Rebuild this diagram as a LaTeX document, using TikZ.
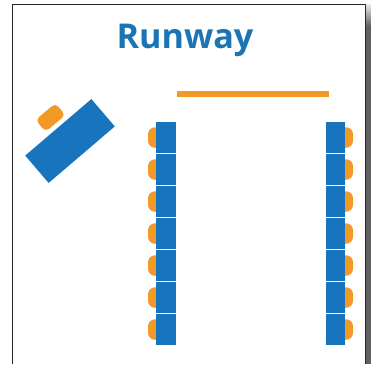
\documentclass[tikz,border=0pt]{standalone}
\usepackage{fontspec}
\setsansfont{Open Sans}
\definecolor{tableblue}{HTML}{1874BC}
\definecolor{chairorange}{HTML}{F39A26}
\definecolor{titleblue}{HTML}{1B75B4}
\tikzset{
	tablebox/.style={draw=none, fill=tableblue, minimum width=19.5pt, minimum height=30.5pt, inner sep=0pt, outer sep=0pt},
	chairbox/.style={draw=none, fill=chairorange, rounded corners=7pt, minimum width=18pt, minimum height=20.5pt, inner sep=0pt, outer sep=0pt},
}
\begin{document}
\begin{tikzpicture}[x=1pt, y=-1pt, line join=round, line cap=butt]
	\useasboundingbox (0,0) rectangle (371,364);
	% shadow and frame
	\fill[black!62] (366,26) rectangle (371,364);
	\shade[top color=black!8, bottom color=black!62] (366,4) rectangle (371,26);
	\draw[black!85, line width=1.3pt] (12.5,364)--(12.5,4.5)--(365.2,4.5)--(365.2,364);
	\node[font=\sffamily\bfseries, text=titleblue, scale=3.42] (title) at (185,40) {Runway};
	\draw[chairorange, line width=5.5pt] (177,94)--(329,94);
	% rows of tables, chairs go first
	\foreach \n in {0,...,6}{
		\node[chairbox] (chairL\n) at (157,137.5+\n*32) {};
		\node[chairbox] (chairR\n) at (344,137.5+\n*32) {};
		\node[tablebox] (tableL\n) at (166,137.5+\n*32) {};
		\node[tablebox] (tableR\n) at (335.5,137.5+\n*32) {};
	}
	% the table at an angle
	\node[chairbox, rounded corners=4.5pt, minimum width=26pt, minimum height=15.5pt, rotate=40] (chairA) at (50.5,117.5) {};
	\node[tablebox, minimum width=87pt, minimum height=36pt, rotate=40.5] (tableA) at (70,141) {};
\end{tikzpicture}
\end{document}
